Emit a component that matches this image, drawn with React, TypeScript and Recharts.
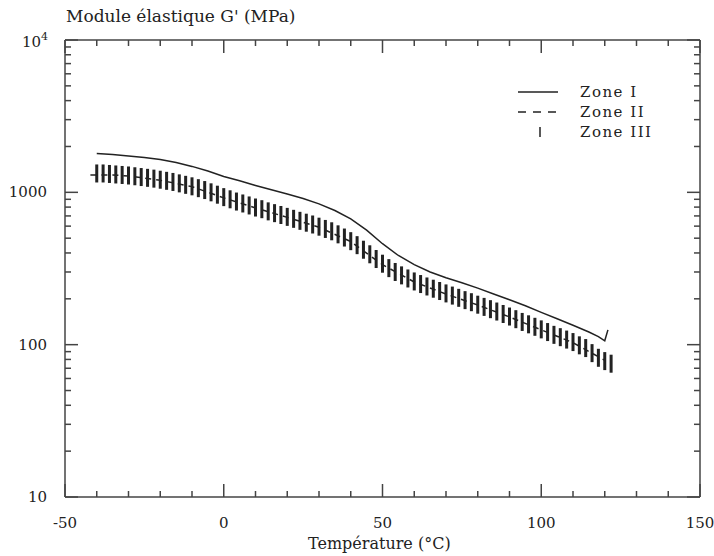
import React from 'react';
import { ComposedChart, Line, Scatter, XAxis, YAxis } from 'recharts';

// Zone I (solid line)
const tempZone1 = [-40, -35, -30, -25, -20, -15, -10, -5, 0, 5, 10, 15, 20, 25, 30, 35, 40, 45, 50, 55, 60, 65, 70, 75, 80, 85, 90, 95, 100, 105, 110, 115, 118, 120, 121];
const gZone1 = [1800, 1770, 1730, 1690, 1640, 1570, 1480, 1380, 1270, 1190, 1110, 1040, 975, 910, 840, 760, 670, 565, 460, 385, 335, 300, 275, 255, 235, 215, 197, 180, 163, 148, 134, 121, 113, 106, 125];

// Zone II (dashed line)
const tempZone2 = [-42, -35, -30, -20, -10, 0, 10, 20, 30, 40, 50, 60, 70, 80, 90, 100, 110, 120];
const gZone2 = [1300, 1300, 1280, 1200, 1090, 920, 790, 685, 590, 475, 335, 258, 215, 182, 152, 125, 103, 79];

// Zone III (vertical marks)
const tempZone3 = [-40, -38, -36, -34, -32, -30, -28, -26, -24, -22, -20, -18, -16, -14, -12, -10, -8, -6, -4, -2, 0, 2, 4, 6, 8, 10, 12, 14, 16, 18, 20, 22, 24, 26, 28, 30, 32, 34, 36, 38, 40, 42, 44, 46, 48, 50, 52, 54, 56, 58, 60, 62, 64, 66, 68, 70, 72, 74, 76, 78, 80, 82, 84, 86, 88, 90, 92, 94, 96, 98, 100, 102, 104, 106, 108, 110, 112, 114, 116, 118, 120, 122];
const gZone3 = [1330, 1330, 1320, 1310, 1300, 1290, 1275, 1260, 1245, 1230, 1210, 1190, 1170, 1145, 1120, 1095, 1065, 1035, 1000, 965, 930, 900, 870, 845, 820, 795, 775, 750, 730, 710, 690, 670, 650, 632, 615, 595, 575, 555, 530, 505, 478, 450, 420, 392, 365, 340, 318, 300, 285, 272, 260, 250, 241, 233, 225, 217, 210, 203, 196, 190, 183, 177, 171, 165, 159, 153, 147, 141, 136, 131, 126, 121, 116, 112, 108, 104, 99, 95, 88, 82, 78, 75];

const xTicks = [-50, -40, -30, -20, -10, 0, 10, 20, 30, 40, 50, 60, 70, 80, 90, 100, 110, 120, 130, 140, 150];
const xLabels = [-50, 0, 50, 100, 150];
const yTicks = [10, 20, 30, 40, 50, 60, 70, 80, 90, 100, 200, 300, 400, 500, 600, 700, 800, 900, 1000, 2000, 3000, 4000, 5000, 6000, 7000, 8000, 9000, 10000];
const yLabels = [10, 100, 1000];

const zone1 = tempZone1.map((t, i) => ({ t, g: gZone1[i] }));
const zone2 = tempZone2.map((t, i) => ({ t, g: gZone2[i] }));
const zone3 = tempZone3.map((t, i) => ({ t, g: gZone3[i] }));

const INK = '#222';
const AXIS = '#444';
const FONT = "'DejaVu Serif', serif";

const isMajorX = (v: number) => v % 50 === 0;
const isMajorY = (v: number) => Math.abs(Math.log10(v) - Math.round(Math.log10(v))) < 1e-6;

const BottomTick = ({ x, y, payload }: any) => {
  const v = payload.value;
  return (
    <g>
      <path d={`M${x},${y}V${y - (isMajorX(v) ? 13 : 6)}`} stroke={AXIS} strokeWidth={1.5} fill="none" />
      {xLabels.includes(v) && (
        <text x={x} y={y + 31} textAnchor="middle" fontFamily={FONT} fontSize={15} fill={INK}>
          {v}
        </text>
      )}
    </g>
  );
};

const TopTick = ({ x, y, payload }: any) => (
  <path d={`M${x},${y}V${y + (isMajorX(payload.value) ? 13 : 6)}`} stroke={AXIS} strokeWidth={1.5} fill="none" />
);

const LeftTick = ({ x, y, payload }: any) => {
  const v = payload.value;
  return (
    <g>
      <path d={`M${x},${y}H${x + (isMajorY(v) ? 13 : 6)}`} stroke={AXIS} strokeWidth={1.5} fill="none" />
      {yLabels.includes(v) && (
        <text x={x - 18} y={y + 5} textAnchor="end" fontFamily={FONT} fontSize={15} fill={INK}>
          {v}
        </text>
      )}
      {v === 10000 && (
        <text x={x - 17} y={y + 7} textAnchor="end" fontFamily={FONT} fontSize={15} fill={INK}>
          10<tspan dy={-7} fontSize={11}>4</tspan>
        </text>
      )}
    </g>
  );
};

const RightTick = ({ x, y, payload }: any) => (
  <path d={`M${x},${y}H${x - (isMajorY(payload.value) ? 13 : 6)}`} stroke={AXIS} strokeWidth={1.5} fill="none" />
);

const Zone3Mark = ({ cx, cy }: any) => <rect x={cx - 1.5} y={cy - 9} width={3} height={18} fill={INK} />;

const textStyle: React.CSSProperties = {
  position: 'absolute',
  fontFamily: FONT,
  fontSize: 15,
  color: INK,
  whiteSpace: 'nowrap',
  lineHeight: '20px',
};

export default function App() {
  return (
    <div style={{ position: 'absolute', left: 0, top: 0, width: 714, height: 556, background: '#fff' }}>
      <ComposedChart width={714} height={556} margin={{ top: 30, right: 0, bottom: 0, left: 0 }}>
        <XAxis
          dataKey="t"
          type="number"
          domain={[-50, 150]}
          ticks={xTicks}
          interval={0}
          height={59}
          tickSize={0}
          tickMargin={0}
          tickLine={false}
          axisLine={{ stroke: AXIS, strokeWidth: 1.5 }}
          tick={<BottomTick />}
          allowDataOverflow
        />
        <XAxis
          xAxisId="top"
          orientation="top"
          dataKey="t"
          type="number"
          domain={[-50, 150]}
          ticks={xTicks}
          interval={0}
          height={10}
          tickSize={0}
          tickMargin={0}
          tickLine={false}
          axisLine={{ stroke: AXIS, strokeWidth: 1.5 }}
          tick={<TopTick />}
          allowDataOverflow
        />
        <YAxis
          dataKey="g"
          type="number"
          scale="log"
          domain={[10, 10000]}
          ticks={yTicks}
          interval={0}
          width={65}
          tickSize={0}
          tickMargin={0}
          tickLine={false}
          axisLine={{ stroke: AXIS, strokeWidth: 1.5 }}
          tick={<LeftTick />}
          allowDataOverflow
        />
        <YAxis
          yAxisId="right"
          orientation="right"
          dataKey="g"
          type="number"
          scale="log"
          domain={[10, 10000]}
          ticks={yTicks}
          interval={0}
          width={14}
          tickSize={0}
          tickMargin={0}
          tickLine={false}
          axisLine={{ stroke: AXIS, strokeWidth: 1.5 }}
          tick={<RightTick />}
          allowDataOverflow
        />
        <Line
          data={zone2}
          dataKey="g"
          type="linear"
          stroke={INK}
          strokeWidth={1.5}
          strokeDasharray="6 5"
          dot={false}
          isAnimationActive={false}
        />
        <Scatter data={zone3} dataKey="g" shape={<Zone3Mark />} isAnimationActive={false} />
        <Line
          data={zone1}
          dataKey="g"
          type="linear"
          stroke={INK}
          strokeWidth={1.5}
          dot={false}
          isAnimationActive={false}
        />
      </ComposedChart>

      <div style={{ ...textStyle, left: 66, top: 6, fontSize: 17 }}>Module élastique G' (MPa)</div>
      <div style={{ ...textStyle, left: 308, top: 534, fontSize: 16 }}>Température (°C)</div>

      <svg style={{ position: 'absolute', left: 0, top: 0 }} width={714} height={556} pointerEvents="none">
        <path d="M518,92H558" stroke={INK} strokeWidth={1.5} fill="none" />
        <path d="M518,112H558" stroke={INK} strokeWidth={1.5} strokeDasharray="8 7" fill="none" />
        <path d="M540,127V137" stroke={INK} strokeWidth={1.5} fill="none" />
      </svg>
      <div style={{ ...textStyle, left: 580, top: 82, letterSpacing: 1.5 }}>Zone I</div>
      <div style={{ ...textStyle, left: 580, top: 102, letterSpacing: 1.5 }}>Zone II</div>
      <div style={{ ...textStyle, left: 580, top: 122, letterSpacing: 1.5 }}>Zone III</div>
    </div>
  );
}
